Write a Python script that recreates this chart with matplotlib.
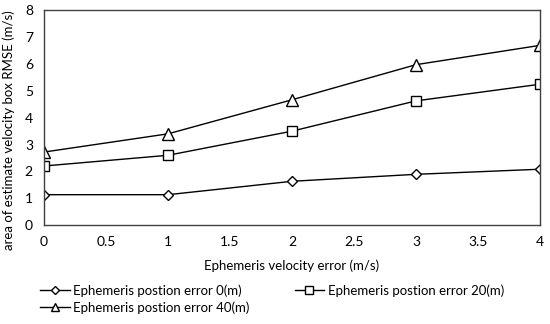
import matplotlib.pyplot as plt

plt.rcParams['font.family'] = ['Lato', 'DejaVu Sans']

vel_err = [0, 1, 2, 3, 4]
pos0 = [1.13, 1.13, 1.63, 1.89, 2.08]
pos20 = [2.20, 2.60, 3.50, 4.63, 5.25]
pos40 = [2.72, 3.40, 4.67, 5.98, 6.70]
labels = ['Ephemeris postion error 0(m)', 'Ephemeris postion error 20(m)',
          'Ephemeris postion error 40(m)']

fig = plt.figure(figsize=(5.5, 3.24), dpi=100)
ax = fig.add_axes([0.08, 0.3056, 0.902, 0.662])

l0, = ax.plot(vel_err, pos0, '-', marker='D', color='black', lw=1, ms=5.5,
              mfc='white', mew=1, label=labels[0])
l20, = ax.plot(vel_err, pos20, '-', marker='s', color='black', lw=1, ms=7.5,
               mfc='white', mew=1, label=labels[1])
l40, = ax.plot(vel_err, pos40, '-', marker='^', color='black', lw=1, ms=8,
               mfc='white', mew=1, label=labels[2])

ax.set_xlim(0, 4)
ax.set_ylim(0, 8)
ax.set_xticks([0, 0.5, 1, 1.5, 2, 2.5, 3, 3.5, 4])
ax.set_xticklabels(['0', '0.5', '1', '1.5', '2', '2.5', '3', '3.5', '4'])
ax.set_yticks(range(9))
ax.tick_params(length=0, labelsize=10)
ax.tick_params(axis='x', pad=8)
ax.tick_params(axis='y', pad=8)
for s in ax.spines.values():
    s.set_color('#404040')
    s.set_linewidth(1)

ax.set_xlabel('Ephemeris velocity error (m/s)', fontsize=9.5, labelpad=8)
ax.set_ylabel('area of estimate velocity box RMSE (m/s)', fontsize=9.5)
ax.yaxis.set_label_coords(-0.058, 0.443)

# row-major order: 0 and 20 on first row, 40 on second
leg = fig.legend([l0, l40, l20], [labels[0], labels[2], labels[1]],
                 loc='upper left', bbox_to_anchor=(0.052, 0.16), ncol=2,
                 frameon=False, fontsize=9.5, handlelength=2.2,
                 columnspacing=3.4, labelspacing=0.35, handletextpad=0.3,
                 markerscale=0.8)

fig.savefig('out.png', dpi=100)
